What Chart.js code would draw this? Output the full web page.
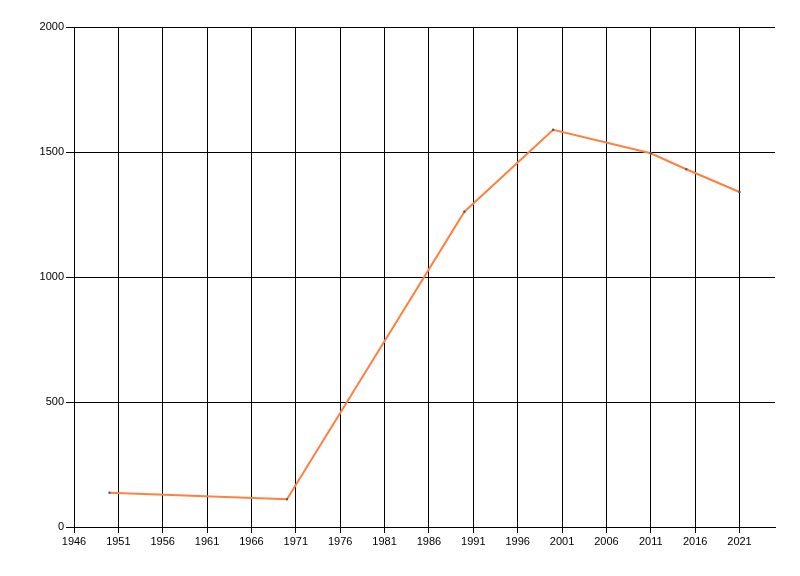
<!DOCTYPE html>
<html>
<head>
<meta charset="utf-8">
<script src="https://cdn.jsdelivr.net/npm/chart.js@4"></script>
<style>
  html, body { margin: 0; padding: 0; background: #fff; }
  #wrap { width: 800px; height: 576px; }
</style>
</head>
<body>
<div id="wrap"><canvas id="lineChart" width="800" height="576"></canvas></div>
<script>
// data
const years = [1950, 1970, 1990, 2000, 2011, 2015, 2021];
const values = [137, 111, 1261, 1589, 1495, 1431, 1340];
const xTicks = [1946, 1951, 1956, 1961, 1966, 1971, 1976, 1981, 1986, 1991, 1996, 2001, 2006, 2011, 2016, 2021];
const yTicks = [0, 500, 1000, 1500, 2000];

const ctx = document.getElementById('lineChart').getContext('2d');
new Chart(ctx, {
  type: 'line',
  data: {
    datasets: [
      {
        data: years.map((y, i) => ({ x: y, y: values[i] })),
        borderColor: 'rgb(255, 128, 64)',
        borderWidth: 2,
        fill: false,
        tension: 0,
        pointStyle: 'rect',
        pointRadius: 1.5,
        pointBackgroundColor: '#555',
        pointBorderWidth: 0,
      },
    ],
  },
  options: {
    responsive: false,
    animation: false,
    devicePixelRatio: 1,
    layout: { padding: { left: 0, top: 27, right: 25, bottom: 0 } },
    plugins: { legend: { display: false }, tooltip: { enabled: false } },
    scales: {
      x: {
        type: 'linear',
        min: 1946,
        max: 2025,
        afterBuildTicks: (scale) => {
          scale.ticks = xTicks.map((v) => ({ value: v }));
        },
        afterFit: (scale) => { scale.height = 49; },
        grid: { color: '#000', lineWidth: 1, tickLength: 6, drawOnChartArea: true },
        border: { color: '#000', width: 1 },
        ticks: {
          color: '#000',
          padding: 2,
          maxRotation: 0,
          autoSkip: false,
          font: { family: 'Liberation Sans', size: 11 },
          callback: (v) => String(v),
        },
      },
      y: {
        min: 0,
        max: 2000,
        afterBuildTicks: (scale) => {
          scale.ticks = yTicks.map((v) => ({ value: v }));
        },
        afterFit: (scale) => { scale.width = 74; },
        grid: { color: '#000', lineWidth: 1, tickLength: 8 },
        border: { color: '#000', width: 1 },
        ticks: {
          color: '#000',
          padding: 2,
          font: { family: 'Liberation Sans', size: 11 },
          callback: (v) => String(v),
        },
      },
    },
  },
});
</script>
</body>
</html>
